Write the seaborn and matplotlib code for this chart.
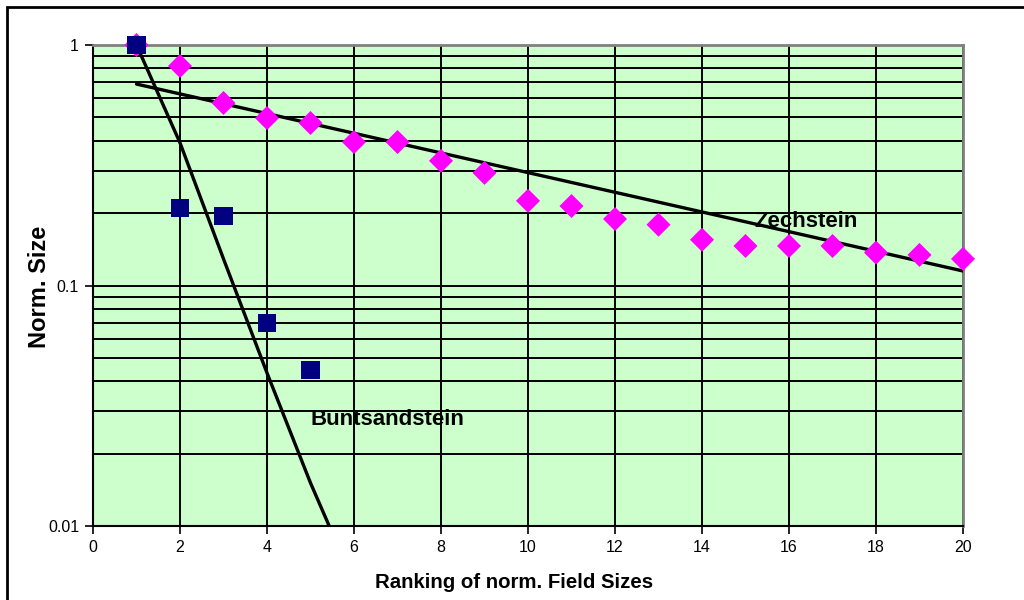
import matplotlib
matplotlib.use("Agg")
import matplotlib.pyplot as plt
import seaborn as sns
import numpy as np
import pandas as pd
from matplotlib.patches import Rectangle
from matplotlib.ticker import FixedLocator, NullFormatter, FixedFormatter

# ---- data ----
zech_rank = list(range(1, 21))
zech_size = [1.0, 0.818, 0.574, 0.497, 0.474, 0.395, 0.395, 0.330, 0.294, 0.225,
             0.214, 0.189, 0.179, 0.155, 0.146, 0.146, 0.146, 0.137, 0.134, 0.129]
bunt_rank = [1, 2, 3, 4, 5]
bunt_size = [1.0, 0.210, 0.1945, 0.0698, 0.0445]

# trend lines
zech_trend_x = [1, 20]
zech_trend_y = [0.688, 0.1149]
bunt_trend_x = [1.0, 2.0, 3.0, 4.0, 5.0, 5.43]
bunt_trend_y = [1.0, 0.392, 0.129, 0.0433, 0.0151, 0.01]

x_ticks = [0, 2, 4, 6, 8, 10, 12, 14, 16, 18, 20]
y_major = [0.01, 0.1, 1]
y_major_labels = ["0.01", "0.1", "1"]

sns.set_theme(style="white")
plt.rcParams['font.family'] = ['Liberation Sans', 'DejaVu Sans']
plt.rcParams['text.color'] = 'black'
plt.rcParams['axes.labelcolor'] = 'black'
plt.rcParams['xtick.color'] = 'black'
plt.rcParams['ytick.color'] = 'black'

fig = plt.figure(figsize=(10.24, 6.0), dpi=100)
ax = fig.add_axes([93/1024, 1-526/600, (963-93)/1024, (526-45)/600])
ax.set_facecolor("#CCFFCC")

ax.set_xlim(0, 20)
ax.set_yscale("log")
ax.set_ylim(0.01, 1)

# grid
minor = [m * 10.0**e for e in (-2, -1) for m in range(2, 10)]
ax.yaxis.set_major_locator(FixedLocator(y_major))
ax.yaxis.set_major_formatter(FixedFormatter(y_major_labels))
ax.yaxis.set_minor_locator(FixedLocator(minor))
ax.yaxis.set_minor_formatter(NullFormatter())
ax.set_xticks(x_ticks)
ax.set_xticklabels([str(t) for t in x_ticks])
ax.grid(True, which="major", axis="both", color="black", linewidth=1.4, zorder=1)
ax.grid(True, which="minor", axis="y", color="black", linewidth=1.4, zorder=1)
ax.set_axisbelow(True)

# trend lines
sns.lineplot(x=zech_trend_x, y=zech_trend_y, ax=ax, color="black", linewidth=2.4, zorder=3)
sns.lineplot(x=bunt_trend_x, y=bunt_trend_y, ax=ax, color="black", linewidth=2.4, zorder=3)

# data points
sns.scatterplot(x=zech_rank, y=zech_size, ax=ax, marker="D", s=150, color="#FF00FF",
                edgecolor="none", zorder=4, clip_on=False)
sns.scatterplot(x=bunt_rank, y=bunt_size, ax=ax, marker="s", s=170, color="#000080",
                edgecolor="none", zorder=5, clip_on=False)

# labels on chart
ax.text(16.4, 0.185, "Zechstein", fontsize=16, fontweight="bold", color="black",
        ha="center", va="center", zorder=6)
ax.text(6.78, 0.0276, "Buntsandstein", fontsize=16, fontweight="bold", color="black",
        ha="center", va="center", zorder=6)

# spines
for s in ("top", "right"):
    ax.spines[s].set_color("#808080")
    ax.spines[s].set_linewidth(2)
for s in ("left", "bottom"):
    ax.spines[s].set_color("black")
    ax.spines[s].set_linewidth(1.5)

ax.tick_params(axis="both", which="major", direction="out", length=6, width=1.2,
               color="black", labelsize=11.5, pad=4, left=True, bottom=True, labelcolor="black")
ax.tick_params(axis="y", which="minor", length=0)

ax.set_xlabel("Ranking of norm. Field Sizes", fontsize=14.7, fontweight="bold",
              color="black", va="center", ha="center")
ax.set_ylabel("Norm. Size", fontsize=17, fontweight="bold", color="black",
              va="center", ha="center")
ax.xaxis.set_label_coords((514-93)/870, -(583-526)/481)
ax.yaxis.set_label_coords((40-93)/870, 0.5 - (287-285.5)/481)

# outer chart frame
fig.add_artist(Rectangle((7/1024, -0.1), 1.2, 1 - 7/600 + 0.1, transform=fig.transFigure,
                         fill=False, edgecolor="black", linewidth=2))

fig.savefig("out.png", dpi=100)
